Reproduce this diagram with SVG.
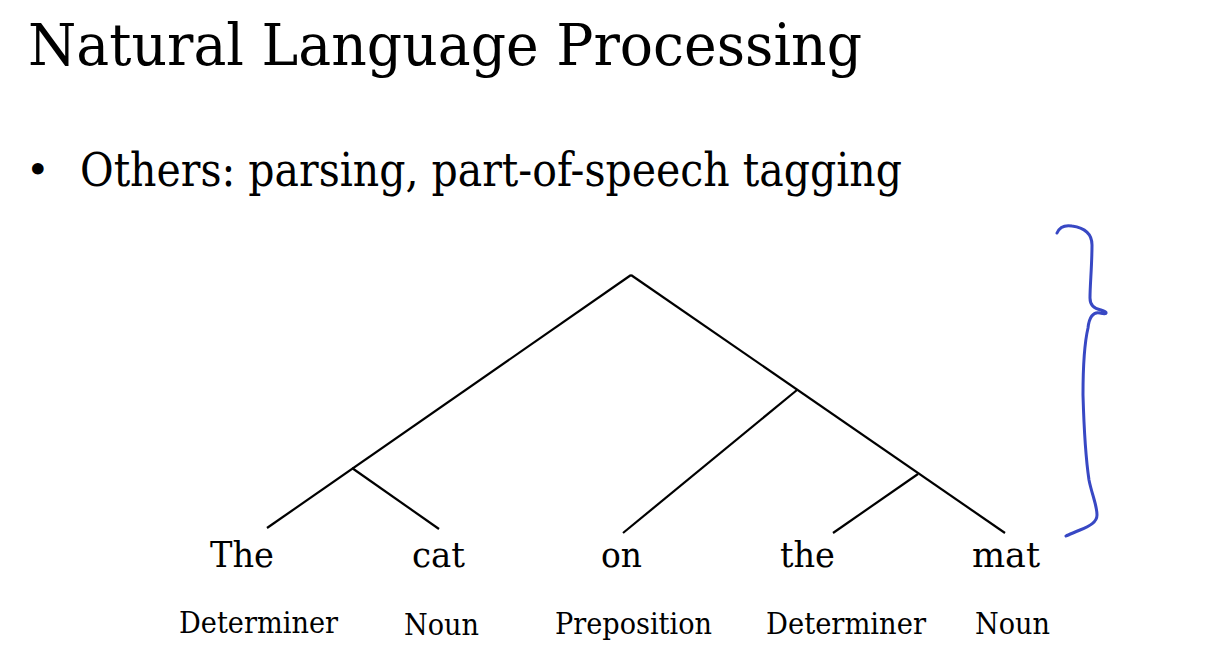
<svg xmlns="http://www.w3.org/2000/svg" width="1225" height="647" viewBox="0 0 1225 647">
<style>
.t{font-family:"DejaVu Serif","Liberation Serif",serif;fill:#000}
.word{font-size:36px}
.tag{font-size:29px}
.edge{stroke:#000;stroke-width:2.2;fill:none;stroke-linecap:butt}
</style>
<rect width="1225" height="647" fill="#fff"/>
<text class="t" x="28" y="65" font-size="58" textLength="834" lengthAdjust="spacingAndGlyphs">Natural Language Processing</text>
<text class="t" x="26" y="183" font-size="40">•</text>
<text class="t" x="80" y="186" font-size="47" textLength="822" lengthAdjust="spacingAndGlyphs">Others: parsing, part-of-speech tagging</text>
<g id="connectors">
<line class="edge" x1="631" y1="275" x2="267" y2="528"/>
<line class="edge" x1="352" y1="468" x2="439" y2="529"/>
<line class="edge" x1="631" y1="275" x2="1005" y2="533"/>
<line class="edge" x1="797" y1="390" x2="623" y2="533"/>
<line class="edge" x1="918" y1="474" x2="833" y2="533"/>
</g>
<g id="node-the1">
<text class="t word" x="210" y="567" textLength="64" lengthAdjust="spacingAndGlyphs">The</text>
<text class="t tag" x="179" y="633" textLength="159" lengthAdjust="spacingAndGlyphs">Determiner</text>
</g>
<g id="node-cat">
<text class="t word" x="412" y="567" textLength="53" lengthAdjust="spacingAndGlyphs">cat</text>
<text class="t tag" x="404" y="635" textLength="75" lengthAdjust="spacingAndGlyphs">Noun</text>
</g>
<g id="node-on">
<text class="t word" x="601" y="567" textLength="41" lengthAdjust="spacingAndGlyphs">on</text>
<text class="t tag" x="555" y="634" textLength="157" lengthAdjust="spacingAndGlyphs">Preposition</text>
</g>
<g id="node-the2">
<text class="t word" x="780" y="567" textLength="55" lengthAdjust="spacingAndGlyphs">the</text>
<text class="t tag" x="766" y="634" textLength="160" lengthAdjust="spacingAndGlyphs">Determiner</text>
</g>
<g id="node-mat">
<text class="t word" x="972" y="567" textLength="68" lengthAdjust="spacingAndGlyphs">mat</text>
<text class="t tag" x="975" y="634" textLength="75" lengthAdjust="spacingAndGlyphs">Noun</text>
</g>
<path id="brace" d="M1057,233 C1060,226 1066,225 1072,226 C1086,228 1092,235 1092,245 C1092,265 1090,285 1090,298 C1090,306 1095,309 1101,310 C1108,312 1108,315 1100,313 C1093,311 1089,318 1088,328 C1084,345 1083,370 1083,395 C1084,430 1086,460 1089,480 C1092,495 1097,505 1097,515 C1097,522 1090,526 1080,530 C1073,533 1068,535 1066,536" fill="none" stroke="#3848c4" stroke-width="3" stroke-linecap="round" stroke-linejoin="round"/>
</svg>
